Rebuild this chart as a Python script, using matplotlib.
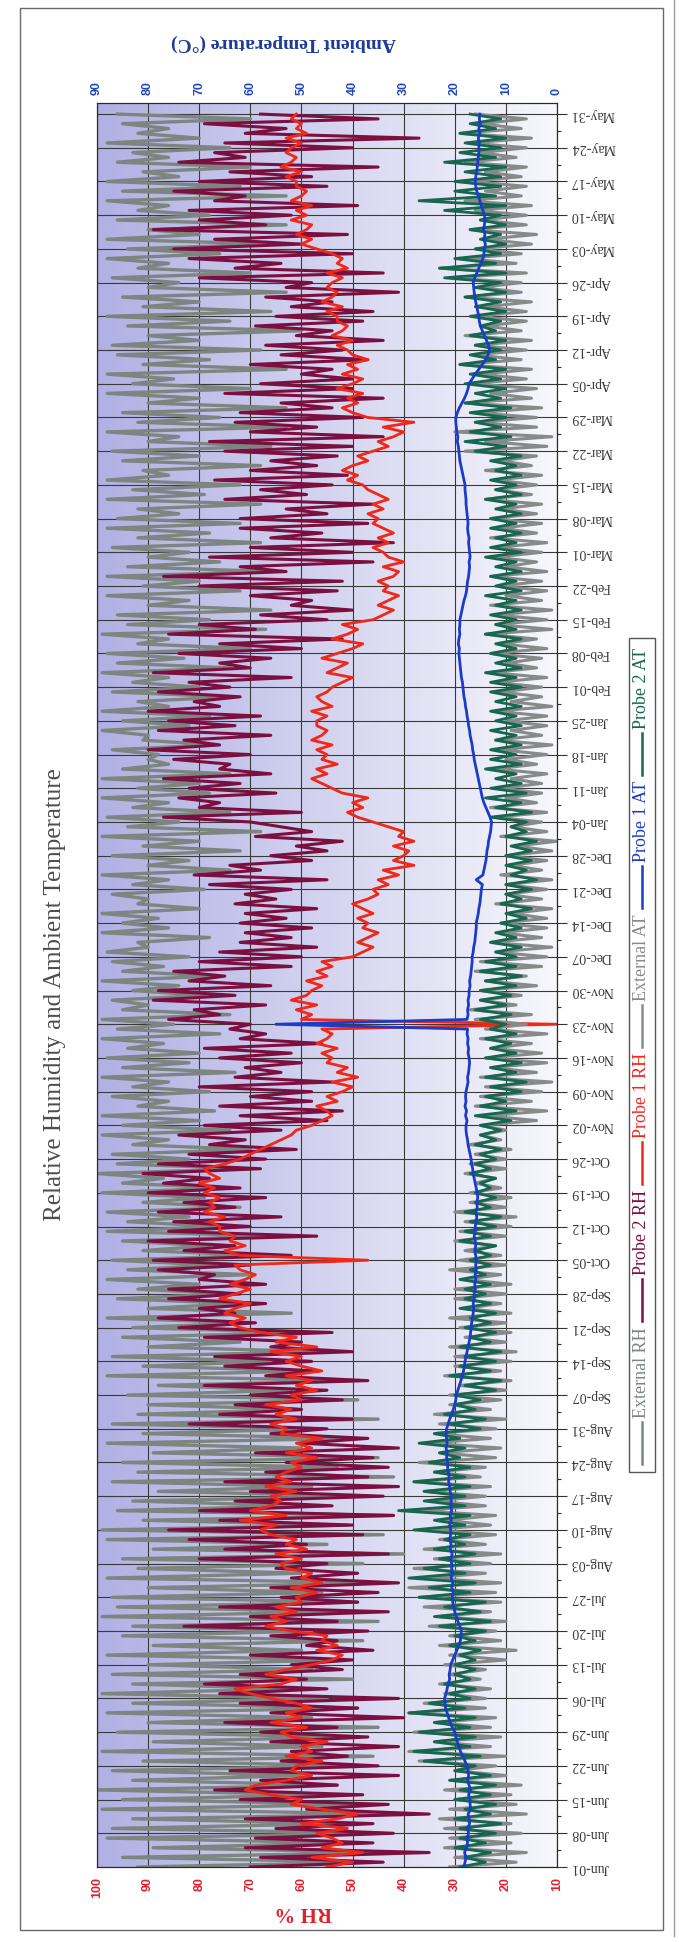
import numpy as np
import matplotlib
matplotlib.use('Agg')
import matplotlib.pyplot as plt
from matplotlib.colors import LinearSegmentedColormap
from matplotlib.lines import Line2D
from matplotlib.patches import Rectangle

W, H = 679, 1942

date_labels = ['Jun-01', 'Jun-08', 'Jun-15', 'Jun-22', 'Jun-29', 'Jul-06', 'Jul-13', 'Jul-20', 'Jul-27',
               'Aug-03', 'Aug-10', 'Aug-17', 'Aug-24', 'Aug-31', 'Sep-07', 'Sep-14', 'Sep-21', 'Sep-28',
               'Oct-05', 'Oct-12', 'Oct-19', 'Oct-26', 'Nov-02', 'Nov-09', 'Nov-16', 'Nov-23', 'Nov-30',
               'Dec-07', 'Dec-14', 'Dec-21', 'Dec-28', 'Jan-04', 'Jan-11', 'Jan-18', 'Jan-25', 'Feb-01',
               'Feb-08', 'Feb-15', 'Feb-22', 'Mar-01', 'Mar-08', 'Mar-15', 'Mar-22', 'Mar-29', 'Apr-05',
               'Apr-12', 'Apr-19', 'Apr-26', 'May-03', 'May-10', 'May-17', 'May-24', 'May-31']
rh_ticks = [10, 20, 30, 40, 50, 60, 70, 80, 90, 100]
temp_ticks = [0, 10, 20, 30, 40, 50, 60, 70, 80, 90]

# daily readings from Jun-01, one row per week
external_rh = [
    92, 46, 95, 42, 89, 50, 98, 44, 97, 52, 93, 40, 99, 48, 95, 56, 100, 53, 93, 60, 97,
    50, 91, 46, 99, 56, 89, 52, 96, 45, 90, 58, 98, 49, 93, 55, 99, 62, 93, 50, 97, 58,
    90, 52, 98, 60, 89, 48, 95, 58, 93, 45, 99, 52, 96, 49, 97, 56, 90, 45, 98, 60, 92,
    48, 95, 40, 89, 55, 98, 44, 99, 51, 91, 42, 96, 60, 93, 47, 88, 58, 97, 42, 92, 53,
    95, 45, 89, 60, 98, 50, 91, 56, 97, 45, 92, 60, 90, 49, 94, 62, 88, 50, 98, 58, 91,
    66, 97, 56, 90, 72, 95, 60, 93, 70, 98, 62, 90, 72, 96, 74, 92, 80, 98, 70, 94, 77,
    97, 68, 91, 78, 95, 65, 98, 76, 94, 82, 98, 72, 91, 79, 99, 75, 95, 87, 100, 70, 96,
    82, 97, 70, 93, 86, 99, 74, 95, 80, 99, 77, 92, 86, 97, 78, 93, 86, 99, 73, 95, 82,
    98, 80, 94, 87, 99, 76, 96, 85, 99, 74, 95, 90, 97, 79, 93, 84, 99, 77, 95, 87, 97,
    82, 98, 90, 92, 78, 99, 86, 95, 88, 99, 80, 92, 90, 97, 79, 93, 86, 99, 74, 90, 82,
    97, 72, 91, 80, 99, 68, 94, 84, 98, 74, 93, 86, 99, 78, 92, 80, 99, 74, 95, 86, 90,
    88, 97, 77, 91, 90, 99, 82, 95, 78, 99, 86, 92, 74, 97, 80, 93, 86, 99, 74, 96, 83,
    98, 70, 92, 86, 99, 67, 94, 78, 96, 66, 90, 82, 98, 72, 91, 80, 98, 66, 94, 76, 90,
    82, 97, 68, 92, 78, 98, 72, 96, 84, 92, 68, 98, 79, 93, 72, 98, 86, 91, 68, 95, 80,
    97, 66, 90, 84, 98, 63, 92, 76, 95, 63, 90, 80, 98, 70, 93, 85, 98, 63, 91, 78, 96,
    68, 97, 80, 90, 60, 94, 74, 98, 66, 91, 80, 95, 63, 90, 84, 97, 70, 92, 86, 98, 76,
    94, 65, 98, 80, 90, 63, 96, 78, 92, 86, 98, 63, 95, 72, 98, 84, 91, 70, 96, 86, 93,
    74, 98, 80, 92, 86, 95, 70, 96]

probe2_rh = [
    70, 44, 68, 35, 71, 46, 69, 42, 65, 46, 71, 35, 59, 43, 72, 48, 77, 53, 68, 41, 74,
    45, 64, 51, 62, 41, 66, 47, 68, 53, 75, 40, 66, 49, 72, 41, 76, 55, 79, 59, 72, 52,
    62, 50, 70, 46, 59, 53, 66, 47, 83, 53, 70, 43, 76, 49, 64, 45, 66, 41, 62, 49, 65,
    55, 80, 43, 75, 59, 82, 48, 86, 50, 76, 42, 80, 54, 73, 44, 70, 41, 75, 47, 67, 43,
    63, 46, 69, 41, 60, 47, 66, 55, 82, 50, 76, 60, 73, 52, 70, 55, 79, 47, 67, 57, 75,
    58, 77, 50, 66, 60, 79, 54, 84, 69, 88, 73, 80, 67, 86, 72, 86, 67, 80, 77, 88, 70,
    89, 62, 83, 73, 90, 57, 86, 70, 85, 64, 88, 73, 83, 67, 90, 72, 87, 78, 91, 68, 88,
    67, 82, 61, 78, 71, 84, 64, 79, 55, 72, 52, 76, 58, 70, 58, 80, 54, 73, 64, 71, 60,
    76, 62, 79, 56, 72, 67, 74, 70, 86, 76, 81, 67, 89, 73, 88, 66, 82, 75, 85, 62, 80,
    60, 76, 57, 72, 62, 71, 58, 72, 63, 71, 57, 73, 65, 71, 62, 78, 55, 81, 68, 74, 58,
    66, 55, 61, 52, 69, 58, 64, 70, 87, 60, 80, 76, 84, 65, 82, 72, 87, 66, 76, 74, 85,
    70, 90, 76, 83, 66, 88, 73, 86, 68, 90, 76, 81, 72, 88, 74, 82, 62, 89, 70, 76, 66,
    84, 60, 76, 52, 86, 69, 80, 55, 68, 50, 62, 58, 70, 53, 80, 52, 87, 63, 72, 46, 78,
    50, 70, 42, 66, 56, 72, 47, 72, 55, 63, 46, 75, 59, 68, 54, 77, 51, 70, 57, 66, 53,
    75, 50, 78, 44, 70, 57, 73, 48, 72, 54, 64, 44, 75, 50, 68, 50, 60, 54, 70, 47, 64,
    52, 67, 44, 61, 54, 69, 48, 65, 46, 62, 54, 67, 41, 63, 58, 80, 44, 73, 64, 82, 50,
    85, 60, 77, 51, 89, 67, 80, 62, 82, 49, 77, 71, 85, 55, 80, 58, 74, 45, 84, 71, 77,
    50, 75, 37, 71, 63, 79, 45, 68]

probe1_rh = [
    55, 50, 58, 48, 56, 52, 54, 57, 51, 60, 53, 49, 56, 62, 60, 66, 71, 69, 63, 58, 62,
    61, 56, 63, 58, 60, 55, 62, 64, 59, 66, 60, 63, 58, 61, 66, 70, 73, 64, 61, 67, 63,
    58, 54, 52, 57, 53, 56, 55, 62, 67, 63, 66, 61, 65, 60, 61, 57, 62, 56, 60, 58, 63,
    64, 60, 65, 59, 63, 61, 66, 68, 65, 72, 63, 70, 66, 64, 66, 61, 67, 62, 65, 63, 60,
    62, 57, 63, 58, 61, 56, 64, 63, 66, 61, 65, 62, 67, 60, 62, 57, 61, 58, 63, 56, 60,
    63, 60, 66, 57, 65, 61, 68, 72, 74, 71, 75, 73, 70, 76, 73, 70, 74, 71, 69, 72, 73,
    47, 72, 75, 71, 74, 73, 76, 76, 78, 75, 79, 77, 78, 76, 79, 77, 80, 76, 78, 79, 75,
    72, 70, 68, 66, 64, 62, 61, 58, 56, 54, 55, 57, 53, 55, 52, 50, 54, 49, 53, 51, 55,
    54, 56, 53, 57, 55, 54, 56, 10, 60, 58, 61, 57, 62, 59, 58, 56, 59, 55, 57, 54, 56,
    50, 48, 46, 49, 47, 45, 48, 47, 49, 46, 48, 50, 47, 45, 46, 43, 45, 41, 44, 38, 42,
    40, 39, 42, 38, 41, 40, 43, 46, 49, 51, 48, 50, 47, 52, 54, 56, 58, 55, 57, 53, 56,
    55, 57, 54, 58, 56, 55, 57, 57, 55, 58, 54, 56, 57, 55, 54, 52, 50, 55, 53, 51, 56,
    53, 50, 48, 54, 51, 49, 52, 46, 44, 42, 45, 43, 41, 44, 43, 45, 42, 41, 44, 40, 43,
    44, 46, 43, 45, 42, 44, 46, 45, 47, 44, 46, 43, 45, 47, 48, 51, 49, 52, 50, 47, 49,
    46, 43, 45, 42, 40, 44, 38, 47, 50, 52, 49, 51, 48, 53, 50, 48, 52, 49, 51, 47, 50,
    51, 53, 50, 54, 52, 51, 53, 53, 55, 52, 56, 54, 53, 55, 54, 52, 55, 51, 53, 52, 54,
    57, 60, 58, 61, 59, 58, 62, 59, 61, 58, 62, 60, 59, 61, 61, 63, 60, 64, 62, 61, 63,
    62, 60, 63, 59, 61, 60, 62, 61]

external_at = [
    21, 8, 20, 6, 22, 9, 21, 7, 22, 9, 23, 6, 21, 8, 20, 9, 22, 7, 21, 10, 20,
    12, 27, 10, 29, 13, 24, 11, 28, 13, 24, 12, 29, 14, 26, 14, 22, 13, 23, 15, 21, 14,
    22, 10, 21, 8, 23, 11, 21, 12, 25, 10, 23, 13, 26, 11, 27, 12, 29, 11, 25, 14, 28,
    13, 24, 11, 26, 14, 23, 12, 25, 13, 22, 12, 27, 14, 24, 14, 26, 13, 28, 15, 24, 14,
    27, 12, 23, 11, 25, 13, 24, 12, 23, 10, 24, 13, 21, 11, 21, 10, 19, 9, 22, 11, 20,
    9, 20, 8, 21, 10, 18, 9, 19, 10, 21, 9, 18, 11, 20, 10, 20, 9, 18, 11, 21, 10,
    19, 11, 18, 12, 20, 10, 19, 9, 18, 8, 20, 10, 17, 9, 17, 11, 16, 12, 18, 10, 17,
    10, 16, 9, 17, 11, 15, 10, 15, 4, 14, 2, 16, 5, 15, 3, 14, 1, 15, 4, 13, 2,
    14, 3, 13, 5, 15, 2, 14, 6, 16, 5, 17, 8, 15, 7, 15, 4, 14, 6, 16, 3, 15,
    2, 12, 1, 13, 3, 11, 2, 11, 2, 9, 1, 12, 3, 10, 2, 10, 1, 11, 3, 9, 2,
    10, 1, 8, 0, 11, 2, 9, 3, 12, 2, 13, 4, 10, 3, 11, 3, 9, 2, 12, 4, 10,
    2, 11, 1, 12, 3, 9, 2, 10, 2, 12, 1, 9, 3, 11, 3, 12, 2, 13, 4, 10, 3,
    13, 2, 11, 4, 14, 1, 12, 2, 12, 1, 13, 3, 10, 2, 11, 3, 13, 2, 10, 4, 12,
    3, 12, 2, 13, 4, 11, 3, 13, 4, 11, 3, 14, 5, 12, 4, 12, 3, 14, 5, 11, 4,
    18, 2, 14, 1, 20, 4, 16, 4, 16, 3, 18, 5, 13, 4, 17, 6, 15, 5, 19, 7, 16,
    6, 16, 5, 18, 7, 14, 6, 16, 6, 14, 5, 18, 7, 15, 7, 21, 6, 23, 8, 18, 7,
    16, 5, 14, 4, 17, 6, 15, 6, 16, 5, 18, 7, 14, 6, 17, 7, 14, 6, 18, 8, 15,
    6, 17, 5, 19, 7, 15, 6, 16]

probe2_at = [
    19, 14, 18, 13, 20, 14, 19, 12, 19, 11, 20, 13, 18, 12, 20, 13, 19, 12, 21, 13, 20,
    16, 26, 15, 28, 17, 24, 16, 27, 17, 24, 16, 29, 18, 25, 17, 21, 16, 22, 17, 20, 16,
    20, 16, 19, 15, 21, 16, 20, 14, 23, 13, 24, 15, 22, 14, 27, 17, 25, 16, 29, 18, 26,
    17, 23, 16, 24, 18, 22, 17, 28, 18, 24, 17, 31, 18, 26, 18, 26, 17, 28, 18, 24, 17,
    25, 19, 23, 18, 27, 19, 24, 15, 21, 14, 22, 16, 20, 15, 20, 12, 18, 11, 21, 13, 19,
    12, 18, 11, 19, 13, 17, 12, 18, 13, 17, 12, 19, 13, 18, 14, 18, 13, 19, 14, 17, 13,
    17, 13, 16, 12, 19, 13, 18, 12, 17, 11, 18, 13, 16, 12, 16, 13, 15, 12, 17, 13, 16,
    12, 15, 11, 16, 12, 15, 11, 15, 9, 16, 8, 15, 10, 14, 7, 13, 6, 14, 8, 13, 7,
    14, 8, 13, 9, 14, 8, 13, 10, 15, 9, 16, 10, 15, 9, 15, 8, 14, 7, 15, 8, 14,
    8, 12, 7, 13, 8, 12, 7, 11, 6, 10, 5, 11, 7, 10, 5, 10, 4, 9, 6, 10, 5,
    10, 5, 9, 4, 10, 6, 9, 6, 13, 5, 12, 7, 14, 6, 13, 7, 12, 8, 14, 7, 13,
    8, 13, 7, 12, 8, 13, 7, 12, 8, 13, 7, 12, 8, 13, 7, 13, 8, 14, 7, 12, 8,
    13, 8, 12, 7, 14, 8, 12, 8, 13, 7, 12, 8, 14, 7, 12, 8, 13, 7, 12, 8, 14,
    7, 13, 8, 12, 7, 13, 8, 13, 7, 12, 8, 14, 7, 12, 8, 13, 7, 12, 8, 13, 7,
    16, 10, 18, 9, 17, 11, 16, 10, 17, 9, 18, 11, 16, 10, 18, 11, 17, 10, 19, 12, 17,
    11, 16, 10, 17, 12, 15, 11, 17, 10, 16, 11, 18, 10, 16, 11, 22, 10, 23, 12, 20, 11,
    16, 10, 15, 11, 17, 10, 15, 11, 22, 10, 27, 12, 20, 11, 20, 11, 18, 10, 22, 12, 19,
    11, 18, 10, 19, 12, 17, 11, 17]

probe1_at = [
    18.2, 18.0, 17.8, 18.1, 17.7, 17.5, 17.6, 17.3, 17.5, 17.1, 17.2, 17.4, 16.9, 17.0,
    17.0, 17.3, 16.9, 17.2, 17.5, 17.3, 17.4, 17.6, 18.0, 18.4, 18.9, 19.2, 19.5, 19.8,
    20.0, 20.5, 20.9, 21.2, 21.5, 21.8, 21.9, 22.0, 21.7, 21.5, 21.3, 21.0, 21.1, 20.9,
    20.8, 20.4, 20.0, 19.6, 19.2, 18.9, 18.8, 18.7, 19.0, 19.4, 19.7, 20.0, 20.2, 20.4,
    20.5, 20.3, 20.6, 20.4, 20.7, 20.5, 20.6, 20.6, 20.8, 20.5, 20.9, 20.7, 21.0, 20.8,
    20.8, 21.0, 20.7, 20.9, 20.6, 20.8, 20.7, 20.7, 20.9, 21.0, 21.2, 21.1, 21.3, 21.4,
    21.4, 21.6, 21.5, 21.7, 21.5, 21.6, 21.7, 21.6, 21.3, 21.0, 20.6, 20.3, 20.0, 19.8,
    19.7, 19.4, 19.1, 18.8, 18.5, 18.3, 18.1, 18.0, 17.8, 17.6, 17.4, 17.2, 17.0, 16.9,
    16.8, 16.7, 16.5, 16.4, 16.3, 16.4, 16.2, 16.2, 16.0, 16.1, 15.9, 16.0, 15.8, 15.9,
    15.8, 15.9, 16.1, 15.9, 16.0, 16.2, 16.0, 16.0, 15.8, 15.7, 15.9, 15.6, 15.7, 15.5,
    15.6, 15.8, 16.0, 16.2, 16.4, 16.5, 16.7, 16.8, 17.0, 17.2, 17.4, 17.5, 17.7, 17.8,
    17.8, 17.6, 17.9, 17.7, 18.0, 17.8, 17.9, 17.8, 17.6, 17.4, 17.5, 17.3, 17.2, 17.1,
    17.2, 17.4, 17.3, 17.5, 17.4, 17.6, 17.5, 55.0, 17.6, 17.4, 17.5, 17.3, 17.4, 17.2,
    17.2, 17.0, 17.1, 16.9, 16.8, 16.7, 16.6, 16.6, 16.4, 16.3, 16.1, 16.0, 15.9, 15.8,
    15.8, 15.6, 15.4, 15.3, 15.1, 15.0, 14.9, 14.8, 14.6, 15.8, 14.5, 14.3, 14.1, 13.9,
    13.8, 13.7, 13.5, 13.4, 13.2, 13.0, 12.9, 12.8, 13.1, 13.5, 13.9, 14.3, 14.6, 14.8,
    15.0, 15.2, 15.4, 15.6, 15.8, 16.0, 16.2, 16.3, 16.5, 16.6, 16.8, 17.0, 17.1, 17.3,
    17.4, 17.6, 17.7, 17.9, 18.0, 18.2, 18.3, 18.4, 18.5, 18.7, 18.8, 18.9, 19.0, 19.1,
    19.2, 19.1, 19.3, 19.2, 19.0, 19.1, 19.0, 19.0, 18.8, 18.6, 18.4, 18.2, 17.9, 17.7,
    17.6, 17.5, 17.3, 17.2, 17.1, 17.2, 17.0, 17.1, 17.2, 17.3, 17.2, 17.4, 17.5, 17.4,
    17.5, 17.6, 17.7, 17.8, 17.8, 17.9, 18.0, 18.0, 18.2, 18.4, 18.6, 18.8, 19.0, 19.1,
    19.2, 19.3, 19.5, 19.4, 19.6, 19.7, 19.8, 19.8, 19.5, 19.1, 18.6, 18.1, 17.7, 17.4,
    17.2, 16.6, 16.0, 15.3, 14.6, 14.0, 13.5, 13.2, 13.4, 13.8, 14.2, 14.6, 15.0, 15.2,
    15.3, 15.5, 15.7, 15.9, 16.1, 16.2, 16.3, 16.4, 16.1, 15.7, 15.3, 14.9, 14.5, 14.3,
    14.2, 14.0, 14.3, 14.1, 14.4, 14.2, 14.1, 14.2, 14.5, 14.8, 15.1, 15.4, 15.7, 15.9,
    16.0, 15.9, 15.7, 15.6, 15.5, 15.4, 15.3, 15.3, 15.2, 15.4, 15.1, 15.3, 15.0, 15.2,
    15.1]

series_names = ['External RH', 'Probe 2 RH', 'Probe 1 RH', 'External AT', 'Probe 1 AT', 'Probe 2 AT']
series_colors = ['#7d8580', '#7b0f3f', '#f0281a', '#868b89', '#1a3cc8', '#17664f']


def fx(x):
    return x / W


def fy(y):
    return 1 - y / H


fig = plt.figure(figsize=(W / 100, H / 100), dpi=100)
ax = fig.add_axes([fx(97), fy(1867), 460 / W, 1764 / H])

# gradient fill of the plot area
grad = np.linspace(0, 1, 256).reshape(1, -1)
bg = LinearSegmentedColormap.from_list('bg', ['#b0b0e4', '#d4d4f0', '#f7f7fc'])
ax.imshow(grad, extent=[100, 10, 0, 366.3], aspect='auto', cmap=bg, zorder=0)

days = np.arange(len(external_rh))
ax.plot(external_rh, days, color=series_colors[0], lw=2.4, zorder=2)
ax.plot(probe2_rh, days, color=series_colors[1], lw=2.2, zorder=3)
ax.plot(probe1_rh, days, color=series_colors[2], lw=2.0, zorder=4)

ax.set_xlim(100, 10)
ax.set_ylim(0, 366.3)
ax.set_axisbelow(True)
ax.grid(True, which='major', color='#3a3a3a', lw=0.8)

ax.set_xticks(rh_ticks)
ax.set_xticklabels([str(v) for v in rh_ticks], rotation=90, color='#e0202c',
                   fontweight='bold', fontsize=9, family='Liberation Sans')
ax.tick_params(axis='x', length=0, pad=7)

ax.yaxis.tick_right()
ax.set_yticks(np.arange(0, 365, 7))
ax.set_yticklabels(date_labels, rotation=180, fontsize=10, family='Liberation Serif', color='#3a3a3a')
for t in ax.get_yticklabels():
    t.set_va('center')
ax.set_yticks(np.arange(3.5, 365, 7), minor=True)
ax.tick_params(axis='y', which='major', length=7, width=0.8, pad=3, color='#333333')
ax.tick_params(axis='y', which='minor', length=3, width=0.8, color='#333333')
for s in ax.spines.values():
    s.set_color('#2a2a2a')

ax2 = ax.twiny()
ax2.patch.set_visible(False)
ax2.plot(external_at, days, color=series_colors[3], lw=2.2, zorder=2)
ax2.plot(probe2_at, days, color=series_colors[5], lw=2.0, zorder=3)
ax2.plot(probe1_at, days, color=series_colors[4], lw=2.0, zorder=4)
ax2.set_xlim(90, 0)
ax2.set_ylim(0, 366.3)
ax2.set_xticks(temp_ticks)
ax2.set_xticklabels([str(v) for v in temp_ticks], rotation=90, color='#2448b8',
                    fontweight='bold', fontsize=9, family='Liberation Sans')
ax2.tick_params(axis='x', length=0, pad=6)
for s in ax2.spines.values():
    s.set_color('#2a2a2a')

# titles (chart is turned a quarter turn)
fig.text(fx(55), fy(995), 'Relative Humidity and Ambient Temperature', rotation=90,
         ha='center', va='center', fontsize=18, family='Liberation Serif', color='#4d4d4d')
fig.text(fx(284), fy(43), 'Ambient Temperature (°C)', rotation=180, ha='center', va='center',
         fontsize=14, fontweight='bold', family='Liberation Serif', color='#1d3a9c')
fig.text(fx(303), fy(1912), 'RH %', rotation=180, ha='center', va='center',
         fontsize=15, fontweight='bold', family='Liberation Serif', color='#e0202c')

# outer frame and page edge
fig.add_artist(Rectangle((fx(20), fy(1930)), (663 - 20) / W, (1930 - 8) / H,
                         transform=fig.transFigure, fill=False, ec='#6a6a6a', lw=1))
fig.add_artist(Line2D([fx(674), fx(674)], [fy(1936), fy(0)], transform=fig.transFigure,
                      color='#9a9a9a', lw=1))

# legend, read bottom to top
renderer = fig.canvas.get_renderer()
y = 648
for name, col in reversed(list(zip(series_names, series_colors))):
    t = fig.text(fx(642), fy(y), name, rotation=90, ha='center', va='top',
                 fontsize=13, family='Liberation Serif', color=col)
    bb = t.get_window_extent(renderer)
    y += bb.height + 4
    fig.add_artist(Line2D([fx(642), fx(642)], [fy(y), fy(y + 42)], transform=fig.transFigure,
                          color=col, lw=1.8))
    y += 42 + 6
fig.add_artist(Rectangle((fx(629), fy(y + 2)), 26 / W, (y + 2 - 638) / H,
                         transform=fig.transFigure, fill=False, ec='#555555', lw=1))

fig.savefig('out.png', dpi=100)
